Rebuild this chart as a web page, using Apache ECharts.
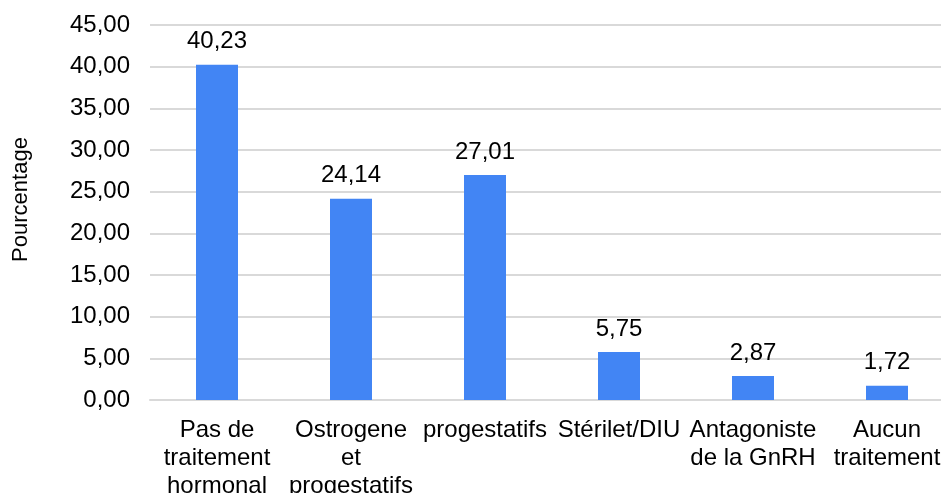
<!DOCTYPE html>
<html>
<head>
<meta charset="utf-8">
<script src="https://cdn.jsdelivr.net/npm/echarts@6/dist/echarts.min.js"></script>
<style>
  html, body { margin: 0; padding: 0; background: #fff; }
  #chart-container { width: 941px; height: 493px; }
</style>
</head>
<body>
<div id="chart-container"></div>
<script>
var categories = [
  'Pas de\ntraitement\nhormonal',
  'Ostrogene\net\nprogestatifs',
  'progestatifs',
  'Stérilet/DIU',
  'Antagoniste\nde la GnRH',
  'Aucun\ntraitement'
];
var values = [40.23, 24.14, 27.01, 5.75, 2.87, 1.72];

var chartDom = document.getElementById('chart-container');
var myChart = echarts.init(chartDom);
var font = 'Liberation Sans, Arial, sans-serif';

function fr(v) {
  return Number(v).toFixed(2).replace('.', ',');
}

var option = {
  animation: false,
  grid: { left: 150, right: -13, top: 25, bottom: 93, outerBoundsMode: 'none', containLabel: false },
  xAxis: {
    type: 'category',
    data: categories,
    axisLine: { lineStyle: { color: '#d9d9d9', width: 2 } },
    axisTick: { show: false },
    axisLabel: {
      interval: 0,
      margin: 16,
      color: '#000',
      fontFamily: font,
      fontSize: 24,
      lineHeight: 28
    }
  },
  yAxis: {
    type: 'value',
    min: 0,
    max: 45,
    interval: 5,
    name: 'Pourcentage',
    nameLocation: 'middle',
    nameGap: 118,
    nameTextStyle: {
      color: '#000',
      fontFamily: font,
      fontSize: 22,
      padding: [0, 0, 0, 26]
    },
    axisLine: { show: false },
    axisTick: { show: false },
    splitLine: { lineStyle: { color: '#d9d9d9', width: 2 } },
    axisLabel: {
      margin: 20,
      color: '#000',
      fontFamily: font,
      fontSize: 24,
      formatter: fr
    }
  },
  series: [{
    type: 'bar',
    data: values,
    barWidth: 42,
    itemStyle: { color: '#4285f4' },
    label: {
      show: true,
      position: 'top',
      distance: 11,
      color: '#000',
      fontFamily: font,
      fontSize: 24,
      formatter: function (p) { return fr(p.value); }
    }
  }]
};

myChart.setOption(option);
</script>
</body>
</html>
